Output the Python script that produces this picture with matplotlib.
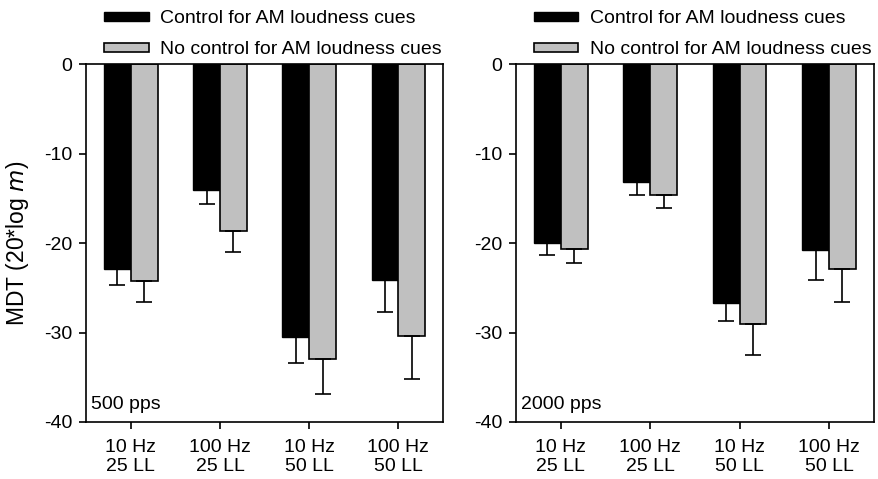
#MDT bar chart, two pulse rates
import numpy as np
import matplotlib
matplotlib.use("Agg")
import matplotlib.pyplot as plt

plt.rcParams['font.family'] = ['Liberation Sans', 'DejaVu Sans']
plt.rcParams['axes.unicode_minus'] = False

conditions = ["10 Hz\n25 LL", "100 Hz\n25 LL", "10 Hz\n50 LL", "100 Hz\n50 LL"]
series_names = ["Control for AM loudness cues", "No control for AM loudness cues"]

# 500 pps
control_500 = [-22.9, -14.1, -30.5, -24.1]
control_500_err = [1.8, 1.5, 2.9, 3.6]
nocontrol_500 = [-24.2, -18.6, -33.0, -30.4]
nocontrol_500_err = [2.4, 2.4, 3.9, 4.8]

# 2000 pps
control_2000 = [-20.0, -13.15, -26.7, -20.8]
control_2000_err = [1.3, 1.45, 2.0, 3.3]
nocontrol_2000 = [-20.7, -14.6, -29.0, -22.9]
nocontrol_2000_err = [1.5, 1.5, 3.5, 3.7]

panels = [
    ("500 pps", control_500, control_500_err, nocontrol_500, nocontrol_500_err),
    ("2000 pps", control_2000, control_2000_err, nocontrol_2000, nocontrol_2000_err),
]

fig = plt.figure(figsize=(8.79, 4.79), dpi=100)
axes = [fig.add_axes([0.098, 0.119, 0.406, 0.747]),
        fig.add_axes([0.587, 0.119, 0.407, 0.747])]

x = np.arange(len(conditions)) + 0.5
w = 0.3
fs = 14

for ax, (label, c, ce, n, ne) in zip(axes, panels):
    b1 = ax.bar(x - w / 2, c, w, color="black", edgecolor="black", linewidth=1,
                yerr=[ce, np.zeros(len(ce))], capsize=6,
                error_kw=dict(elinewidth=1.2, capthick=1.2, ecolor="black"))
    b2 = ax.bar(x + w / 2, n, w, color="#c0c0c0", edgecolor="black", linewidth=1.2,
                yerr=[ne, np.zeros(len(ne))], capsize=6,
                error_kw=dict(elinewidth=1.2, capthick=1.2, ecolor="black"))
    ax.set_xlim(0, 4)
    ax.set_ylim(-40, 0)
    ax.set_yticks([0, -10, -20, -30, -40])
    ax.set_xticks(x)
    ax.set_xticklabels(conditions, fontsize=fs, linespacing=1.2)
    ax.tick_params(axis='y', labelsize=fs, direction='out', length=5, width=1.2, pad=5)
    ax.tick_params(axis='x', direction='out', length=5, width=1.2, pad=7)
    for s in ax.spines.values():
        s.set_linewidth(1.2)
    ax.text(0.015, 0.025, label, transform=ax.transAxes, fontsize=fs, ha='left', va='bottom')
    ax.legend([b1, b2], series_names, loc='lower left', bbox_to_anchor=(0.028, 0.995),
              frameon=False, fontsize=fs, handlelength=2.3, handleheight=0.32,
              handletextpad=0.6, labelspacing=0.72, borderaxespad=0)

axes[0].set_ylabel("MDT (20*log $m$)", fontsize=16.5)
axes[0].yaxis.set_label_coords(-0.155, 0.5)

fig.savefig("out.png", dpi=100)
